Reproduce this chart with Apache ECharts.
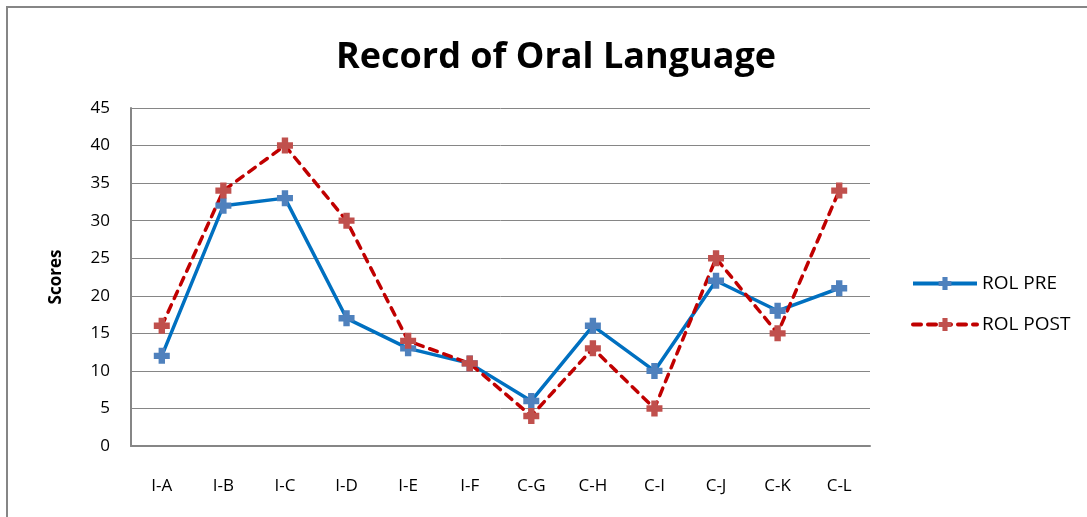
<!DOCTYPE html>
<html><head><meta charset="utf-8">
<script src="https://cdn.jsdelivr.net/npm/echarts@6/dist/echarts.min.js"></script>
<style>html,body{margin:0;padding:0;background:#fff}#c{width:1087px;height:517px}</style>
</head><body><div id="c"></div>
<script>
const categories = ['I-A','I-B','I-C','I-D','I-E','I-F','C-G','C-H','C-I','C-J','C-K','C-L'];
const rolPre = [12,32,33,17,13,11,6,16,10,22,18,21];
const rolPost = [16,34,40,30,14,11,4,13,5,25,15,34];
const titleText = 'Record of Oral Language';
const yName = 'Scores';
const plus = 'path://M3,0H7V3H10V7H7V10H3V7H0V3H3Z';
const font = 'Open Sans';
const chart = echarts.init(document.getElementById('c'));
chart.setOption({
  animation:false,
  backgroundColor:'#fff',
  title:{text:titleText,left:551,top:35,textAlign:'center',textStyle:{fontFamily:font,fontWeight:'bold',fontSize:36,color:'#000'}},
  graphic:[{type:'rect',shape:{x:7,y:7,width:1100,height:530},style:{fill:'none',stroke:'#868686',lineWidth:2},silent:true}],
  grid:{left:131,right:217,top:108,bottom:71},
  legend:{orient:'vertical',left:906,top:269,itemWidth:64,itemHeight:16,itemGap:22,
    lineStyle:{width:4},
    textStyle:{fontFamily:font,fontSize:19,color:'#000'},data:['ROL PRE','ROL POST']},
  xAxis:{type:'category',data:categories,boundaryGap:true,
    axisLine:{lineStyle:{color:'#868686',width:2}},axisTick:{show:false},
    axisLabel:{margin:32,fontFamily:font,fontSize:17,color:'#000'}},
  yAxis:{type:'value',min:0,max:45,interval:5,name:yName,nameLocation:'middle',nameGap:66,
    nameTextStyle:{fontFamily:font,fontWeight:'bold',fontSize:17,color:'#000'},
    axisLine:{show:true,lineStyle:{color:'#868686',width:2}},axisTick:{show:false},
    axisLabel:{margin:21,fontFamily:font,fontSize:17,color:'#000'},
    splitLine:{lineStyle:{color:'#868686',width:1}}},
  series:[
    {name:'ROL PRE',type:'line',data:rolPre,symbol:plus,symbolSize:16,
     lineStyle:{color:'#0070C0',width:3.5},itemStyle:{color:'#4F81BD'}},
    {name:'ROL POST',type:'line',data:rolPost,symbol:plus,symbolSize:16,
     lineStyle:{color:'#C00000',width:3.5,type:[8,7],cap:'round'},itemStyle:{color:'#C0504D'}}
  ]
});
</script></body></html>
